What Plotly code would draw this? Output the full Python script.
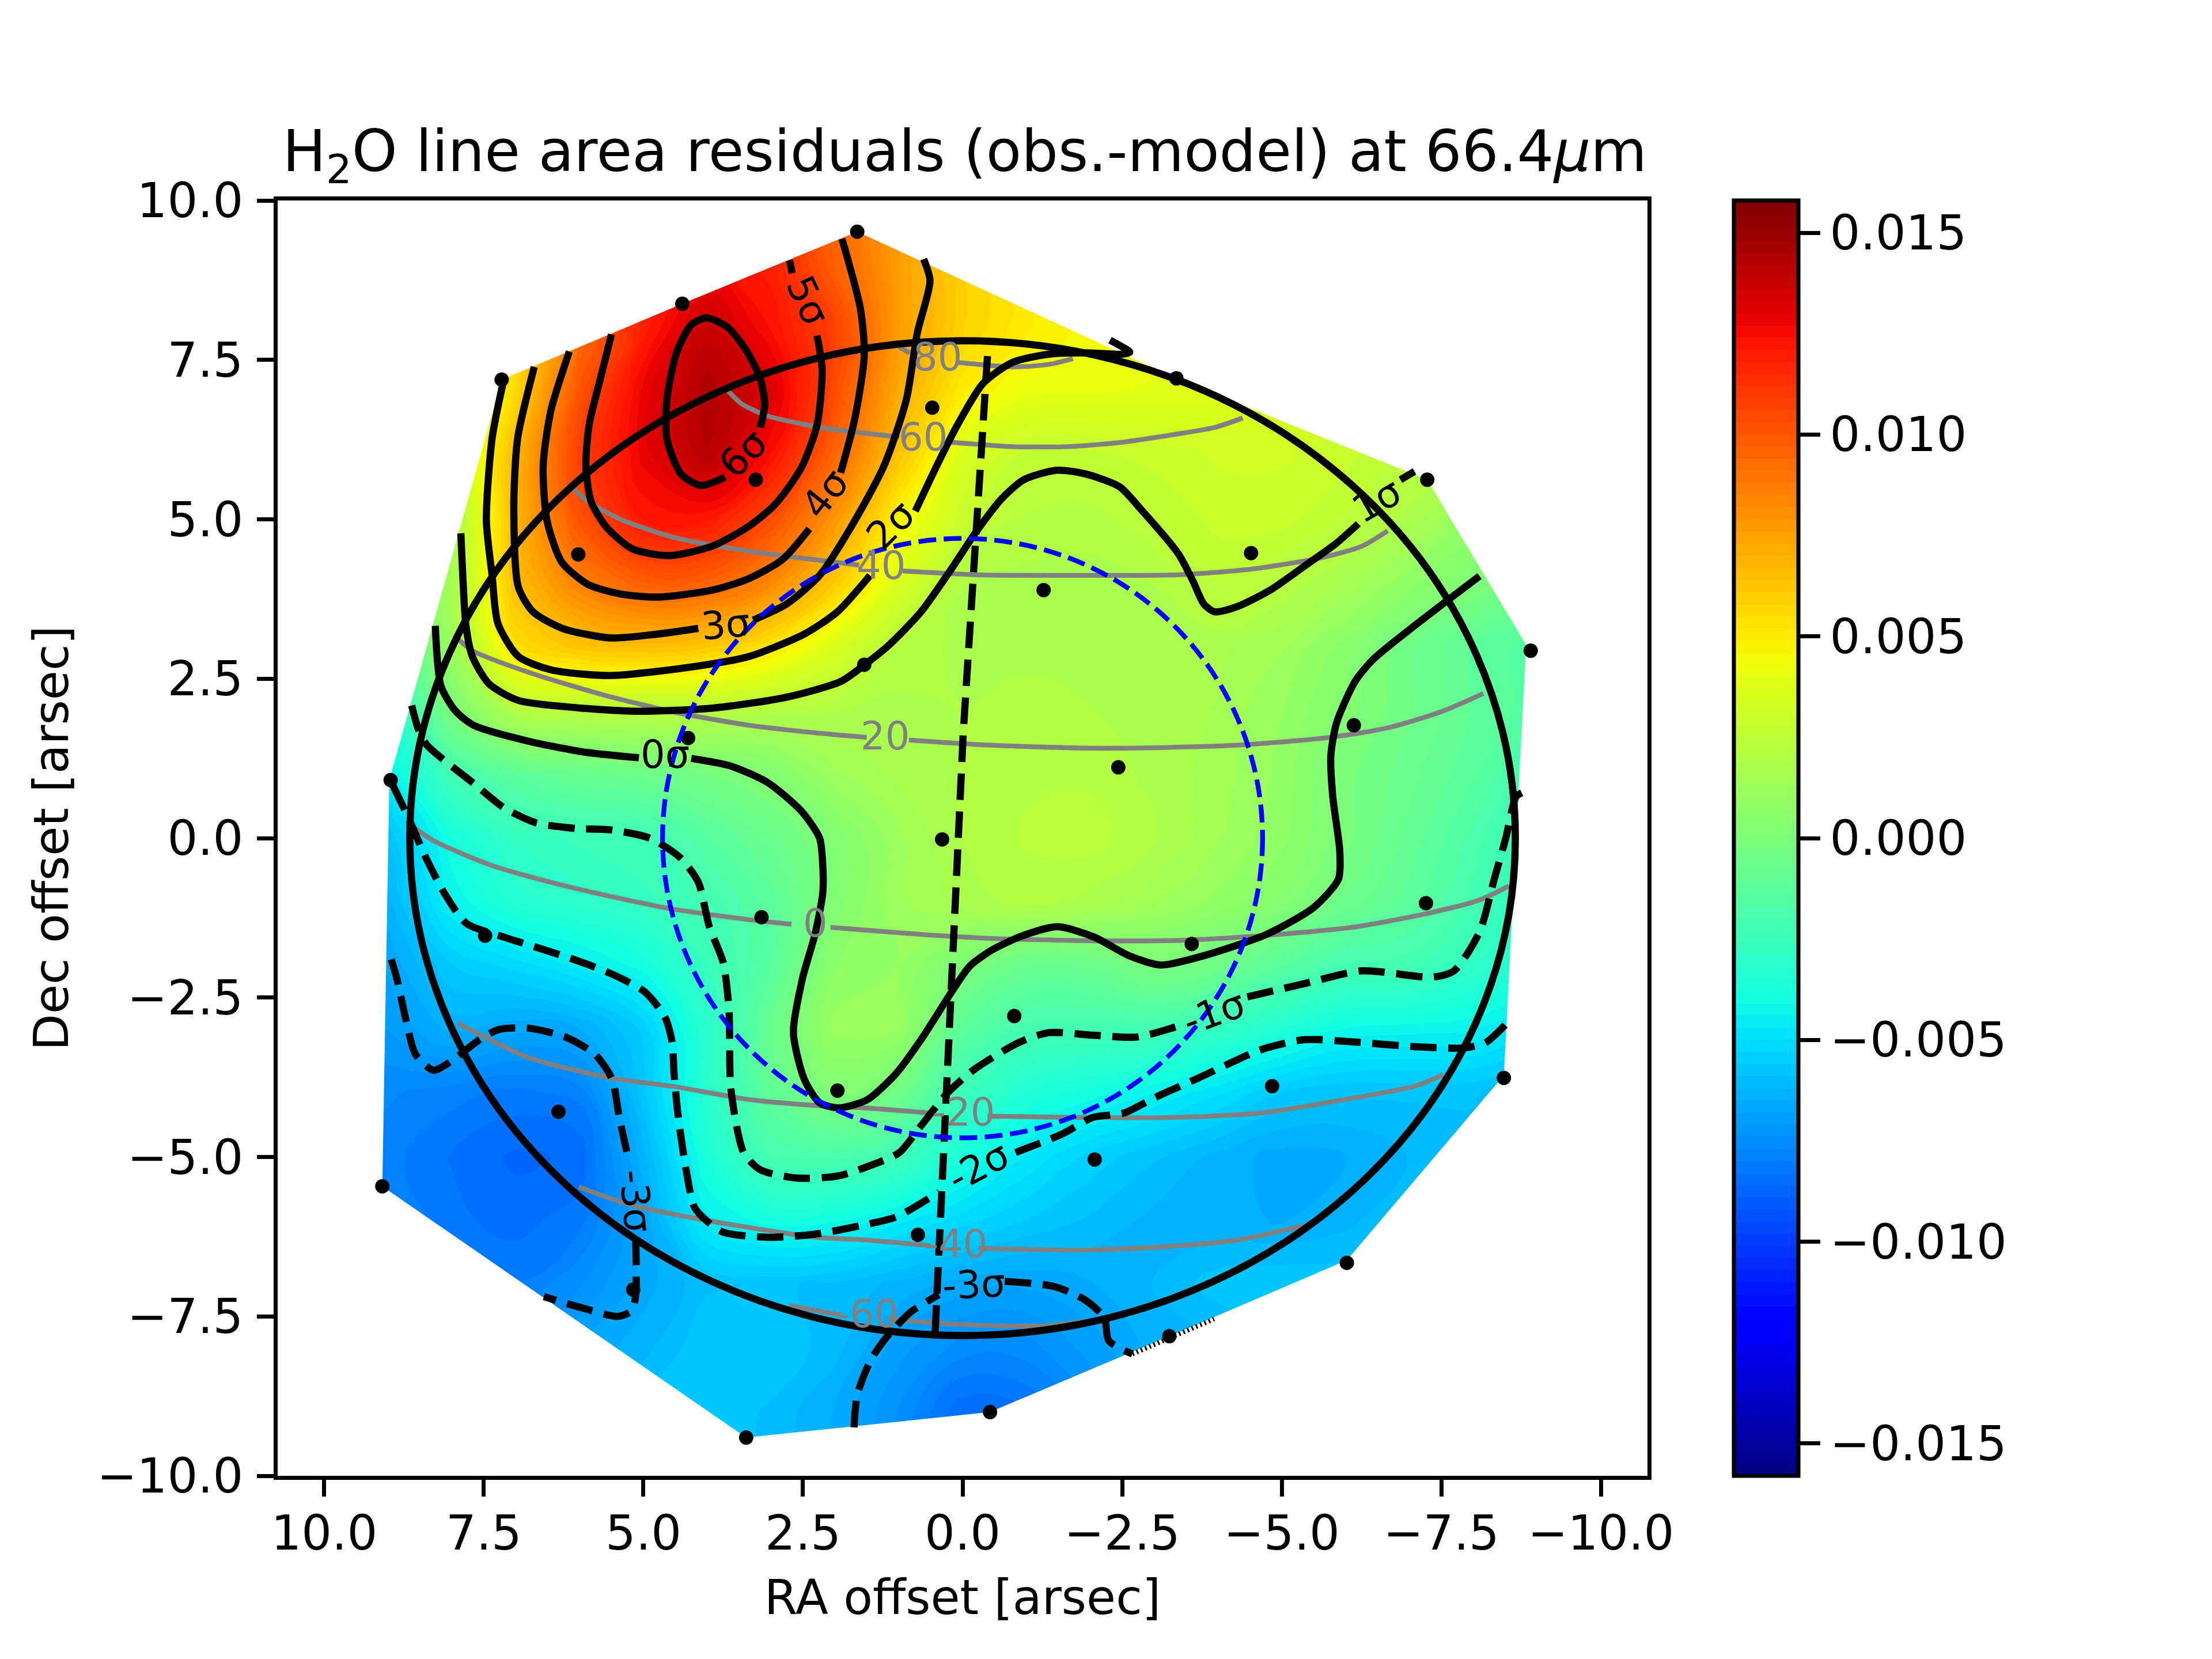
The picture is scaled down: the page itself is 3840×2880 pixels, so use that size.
import plotly.graph_objects as go

SIGMA = 0.00225
CMAX = 0.0158

# residual map, in units of sigma (rows = Dec, columns = RA)
ra_grid = [10, 9, 8, 7, 6, 5, 4, 3, 2, 1, 0, -1, -2, -3, -4, -5, -6, -7, -8, -9, -10]
dec_grid = [10, 9, 8, 7, 6, 5, 4, 3, 2, 1, 0, -1, -2, -3, -4, -5, -6, -7, -8, -9, -10]
residual_sigma = [
    [3.0, 3.5, 4.0, 4.5, 5.0, 5.3, 5.5, 5.1, 4.2, 3.4, 2.6, 2.2, 2.0, 1.9, 1.8, 1.7, 1.6, 1.5, 1.4, 1.3, 1.2],
    [3.0, 3.5, 4.0, 4.5, 5.0, 5.3, 5.6, 5.3, 4.3, 3.4, 2.6, 2.2, 2.0, 1.9, 1.8, 1.7, 1.6, 1.5, 1.4, 1.3, 1.2],
    [1.0, 1.2, 1.6, 2.5, 4.1, 5.3, 6.1, 5.5, 4.75, 3.4, 2.6, 2.2, 2.0, 1.9, 1.8, 1.7, 1.6, 1.5, 1.4, 1.3, 1.2],
    [0.5, 0.8, 1.2, 2.5, 4.5, 5.7, 6.4, 5.9, 4.6, 3.2, 2.2, 1.85, 1.8, 1.75, 1.7, 1.6, 1.5, 1.4, 1.3, 1.2, 1.1],
    [0.2, 0.4, 1.0, 3.0, 4.8, 5.7, 6.3, 5.5, 4.2, 2.8, 1.6, 1.2, 1.2, 1.3, 1.4, 1.4, 1.3, 1.05, 0.9, 0.8, 0.7],
    [-0.2, 0.0, 0.7, 3.0, 4.5, 5.4, 5.4, 4.6, 3.5, 2.1, 1.3, 0.95, 0.9, 1.1, 1.3, 1.3, 1.1, 0.8, 0.4, 0.2, 0.1],
    [-0.5, -0.3, 0.7, 2.9, 3.8, 4.3, 4.25, 3.7, 2.7, 1.6, 0.85, 0.8, 0.8, 0.85, 1.1, 0.95, 0.7, 0.35, 0.05, -0.2, -0.4],
    [-1.5, -0.8, 0.5, 2.4, 2.8, 2.9, 2.75, 2.3, 1.6, 0.95, 0.8, 0.8, 0.75, 0.75, 0.75, 0.6, 0.25, -0.2, -0.5, -0.7, -0.9],
    [-2.2, -1.5, 0.0, 0.9, 1.0, 1.0, 1.0, 0.9, 0.85, 0.8, 0.85, 0.9, 0.85, 0.8, 0.7, 0.45, 0.1, -0.2, -0.5, -0.7, -1.0],
    [-2.6, -2.0, -1.0, -0.55, -0.35, -0.25, -0.1, 0.1, 0.55, 0.75, 0.85, 0.95, 0.95, 0.8, 0.65, 0.4, -0.05, -0.3, -0.6, -1.0, -1.3],
    [-3.0, -2.6, -1.7, -1.25, -1.12, -1.05, -0.65, -0.3, 0.1, 0.55, 0.85, 1.0, 1.05, 0.85, 0.6, 0.35, -0.05, -0.4, -0.8, -1.3, -1.6],
    [-3.2, -2.8, -1.95, -1.5, -1.35, -1.2, -0.98, -0.55, 0.1, 0.55, 0.75, 0.9, 0.8, 0.6, 0.4, 0.15, -0.25, -0.55, -0.95, -1.4, -1.7],
    [-3.2, -3.0, -2.5, -2.3, -2.05, -1.75, -1.15, -0.6, 0.3, 0.45, 0.03, -0.33, -0.3, -0.02, -0.2, -0.6, -0.92, -0.97, -1.3, -1.6, -1.8],
    [-3.3, -3.15, -2.85, -2.98, -2.9, -2.45, -1.4, -0.35, 0.5, 0.45, -0.55, -0.95, -0.98, -1.0, -1.25, -1.55, -1.85, -1.9, -1.95, -2.2, -2.4],
    [-3.4, -3.4, -3.5, -3.6, -3.5, -2.55, -1.45, -0.5, 0.05, -0.2, -1.1, -1.55, -1.75, -1.95, -2.2, -2.5, -2.6, -2.6, -2.6, -2.8, -2.9],
    [-3.4, -3.5, -3.7, -3.85, -3.8, -2.8, -1.65, -0.9, -0.85, -1.05, -1.65, -2.1, -2.4, -2.6, -2.8, -2.95, -2.9, -2.75, -2.7, -2.8, -2.8],
    [-3.4, -3.4, -3.65, -3.75, -3.6, -3.0, -2.0, -1.75, -1.8, -2.05, -2.3, -2.5, -2.65, -2.8, -2.85, -2.9, -2.8, -2.6, -2.6, -2.7, -2.7],
    [-3.4, -3.4, -3.5, -3.55, -3.3, -2.95, -2.65, -2.6, -2.65, -2.8, -2.95, -3.0, -2.9, -2.75, -2.55, -2.5, -2.5, -2.4, -2.4, -2.4, -2.4],
    [-3.3, -3.3, -3.3, -3.3, -3.0, -2.8, -2.5, -2.5, -2.7, -3.1, -3.35, -3.35, -3.1, -2.85, -2.8, -2.7, -2.6, -2.6, -2.6, -2.6, -2.6],
    [-3.0, -3.0, -3.0, -3.0, -2.8, -2.6, -2.5, -2.65, -2.9, -3.3, -3.8, -3.7, -3.3, -3.0, -2.9, -2.8, -2.7, -2.7, -2.7, -2.7, -2.7],
    [-3.0, -3.0, -3.0, -3.0, -2.8, -2.6, -2.5, -2.65, -2.9, -3.3, -3.8, -3.7, -3.3, -3.0, -2.9, -2.8, -2.7, -2.7, -2.7, -2.7, -2.7],
]

# footprint of the map (opposite winding to the outer frame of the mask)
hull = [(1.65, 9.51), (4.39, 8.38), (7.22, 7.19), (8.98, 0.91), (9.09, -5.46), (3.39, -9.4), (-0.43, -9.0), (-3.24, -7.81),
        (-6.02, -6.62), (-8.48, -3.72), (-8.83, 3.03), (-7.28, 5.62), (-3.35, 7.21), (1.65, 9.51)]

# spaxel positions
spaxels_ra = [1.65, 4.39, 7.22, 0.475, 3.24, 6.02, -3.35, -7.28, -4.52, -1.27, -8.9, 1.54, 4.3, -6.13, -2.44, 8.96, 0.32,
              3.15, -7.26, -3.59, 7.48, -0.81, 1.96, 6.33, -8.48, -4.85, -2.07, 9.09, 0.7, 5.16, -6.02, -3.24, 3.39, -0.43]
spaxels_dec = [9.51, 8.38, 7.19, 6.75, 5.62, 4.45, 7.21, 5.62, 4.47, 3.89, 2.94, 2.72, 1.57, 1.77, 1.11, 0.91, -0.02,
               -1.24, -1.02, -1.66, -1.53, -2.79, -3.96, -4.29, -3.76, -3.89, -5.04, -5.46, -6.22, -7.08, -6.66, -7.81, -9.4, -9.0]

# positive residual contours
sig6 = [(3.72, 5.66), (4.10, 5.53), (4.41, 5.71), (4.63, 6.26), (4.63, 6.88), (4.48, 7.61), (4.25, 8.05), (4.01, 8.16),
        (3.68, 8.01), (3.39, 7.65), (3.17, 7.21), (3.10, 6.79), (3.17, 6.44)]
sig5a = [(2.71, 9.06), (2.67, 8.86)]
sig5b = [(2.28, 7.88), (2.20, 7.35), (2.28, 6.48), (2.53, 5.80), (2.94, 5.23), (3.35, 4.89), (3.92, 4.58), (4.61, 4.43),
         (5.18, 4.54), (5.59, 4.89), (5.82, 5.28), (5.90, 5.84), (5.85, 6.48), (5.67, 7.22), (5.50, 7.90)]
sig4a = [(6.16, 7.63), (6.45, 6.70), (6.57, 5.84), (6.51, 4.98), (6.28, 4.33), (5.87, 3.98), (5.36, 3.83), (4.78, 3.78),
         (3.92, 3.89), (3.35, 4.07), (2.82, 4.37), (2.40, 4.85)]
sig4b = [(1.91, 5.73), (1.69, 6.57), (1.54, 7.57), (1.60, 8.30), (1.89, 9.40)]
sig3a = [(6.71, 7.39), (6.97, 6.27), (7.03, 5.20), (6.96, 3.94), (6.73, 3.55), (6.27, 3.29), (5.52, 3.14), (4.78, 3.20),
         (4.14, 3.29)]
sig3b = [(3.28, 3.42), (2.76, 3.67), (2.24, 4.12), (1.74, 4.89), (1.23, 5.84), (0.88, 6.88), (0.71, 7.92), (0.51, 8.74),
         (0.61, 9.08)]
sig2a = [(7.20, 7.13), (7.37, 6.27), (7.46, 4.98), (7.37, 4.12), (7.28, 3.37), (6.96, 2.85), (6.45, 2.64), (5.52, 2.55),
         (4.14, 2.70), (3.34, 2.85), (2.48, 3.20), (1.96, 3.55), (1.45, 4.12)]
sig2b = [(0.74, 5.13), (0.36, 5.93), (0.08, 6.48), (-0.32, 7.13), (-0.78, 7.46), (-1.36, 7.59), (-1.93, 7.61),
         (-2.50, 7.59), (-2.62, 7.62), (-2.31, 7.81)]
sig1a = [(7.86, 4.78), (7.83, 4.12), (7.78, 3.33), (7.68, 2.85), (7.42, 2.42), (6.96, 2.16), (5.98, 2.04), (5.07, 1.99),
         (3.91, 2.04), (2.76, 2.21), (1.90, 2.46), (1.52, 2.73), (1.15, 3.03), (0.65, 3.55), (0.19, 4.20), (-0.21, 4.80),
         (-0.61, 5.32), (-0.96, 5.62), (-1.48, 5.77), (-1.93, 5.71), (-2.46, 5.51), (-2.80, 5.15), (-3.38, 4.46),
         (-3.61, 4.03), (-3.78, 3.67), (-3.95, 3.55), (-4.30, 3.63), (-4.82, 3.89), (-5.39, 4.29), (-5.85, 4.62), (-6.20, 4.93)]
sig1b = [(-6.86, 5.62), (-7.08, 5.75)]
sig0a = [(8.26, 3.33), (8.17, 2.38), (7.94, 1.99), (7.66, 1.77), (6.80, 1.52), (5.93, 1.35), (5.07, 1.26)]
sig0b = [(4.25, 1.25), (3.63, 1.13), (3.05, 0.87), (2.53, 0.43), (2.24, 0.0), (2.19, -0.43), (2.19, -0.86), (2.31, -1.50),
         (2.51, -2.21), (2.65, -3.05), (2.48, -3.78), (2.24, -4.15), (1.93, -4.23), (1.49, -4.10), (1.04, -3.69), (0.65, -3.16),
         (0.17, -2.41), (-0.11, -2.01), (-0.45, -1.76), (-0.94, -1.53), (-1.49, -1.39), (-2.06, -1.55), (-2.60, -1.84),
         (-3.10, -1.99), (-3.72, -1.86), (-4.76, -1.51), (-5.51, -1.08), (-5.89, -0.64), (-5.91, -0.21), (-5.80, 0.65),
         (-5.77, 1.30), (-5.86, 1.81), (-6.15, 2.46), (-6.44, 2.81), (-7.13, 3.37), (-7.52, 3.67), (-8.10, 4.11)]

# negative residual contours
neg1a = [(8.63, 2.08), (8.52, 1.69), (8.40, 1.47), (8.17, 1.26), (7.66, 0.86), (7.19, 0.48), (6.68, 0.24), (6.04, 0.15),
         (5.52, 0.13), (4.90, 0.0), (4.43, -0.30), (4.14, -0.69), (3.97, -1.38), (3.75, -1.95), (3.66, -2.67), (3.65, -3.05),
         (3.63, -3.93), (3.43, -4.93), (3.17, -5.20), (2.60, -5.33), (1.96, -5.30), (1.38, -5.11), (0.99, -4.93), (0.65, -4.51),
         (0.23, -3.99), (-0.18, -3.63), (-0.87, -3.21), (-1.35, -3.05), (-2.04, -3.09), (-2.73, -3.12), (-3.43, -2.93)]
neg1b = [(-4.46, -2.49), (-5.36, -2.28), (-6.26, -2.08), (-7.36, -2.18), (-7.70, -2.08), (-8.10, -1.47), (-8.33, -0.64),
         (-8.51, 0.0), (-8.67, 0.65), (-8.76, 0.71)]
neg2a = [(8.92, 0.82), (8.66, 0.27), (8.43, -0.26), (8.12, -0.86), (7.77, -1.34), (7.19, -1.55), (6.62, -1.73), (6.04, -1.92),
         (5.52, -2.12), (4.98, -2.41), (4.66, -2.81), (4.55, -3.20), (4.52, -3.69), (4.46, -4.32), (4.34, -5.15), (4.20, -5.79),
         (4.00, -6.01), (3.75, -6.18), (3.05, -6.26), (2.31, -6.21), (1.61, -6.08), (1.04, -5.94), (0.37, -5.55)]
neg2b = [(-0.83, -4.93), (-1.56, -4.64), (-2.04, -4.38), (-2.53, -4.31), (-3.01, -4.07), (-3.70, -3.76), (-4.67, -3.32),
         (-5.36, -3.16), (-6.04, -3.19), (-7.08, -3.27), (-7.85, -3.29), (-8.19, -3.21), (-8.50, -2.93)]
neg3a = [(8.95, -1.90), (8.86, -2.21), (8.72, -2.85), (8.57, -3.39), (8.29, -3.64), (8.00, -3.49), (7.54, -3.14), (7.26, -3.00),
         (6.80, -2.98), (6.22, -3.12), (5.76, -3.39), (5.49, -3.78), (5.38, -4.37), (5.24, -5.01)]
neg3b = [(5.12, -6.28), (5.12, -7.16), (5.18, -7.41), (5.41, -7.50), (5.98, -7.36), (6.56, -7.19)]
neg3c = [(1.70, -9.24), (1.65, -8.73), (1.44, -8.19), (1.21, -7.85), (0.81, -7.43), (0.37, -7.16)]
neg3d = [(-0.66, -6.95), (-1.43, -7.03), (-1.90, -7.23), (-2.22, -7.52), (-2.29, -7.88), (-2.66, -8.09)]
neg3_edge = [(-2.66, -8.09), (-3.94, -7.54)]

# planetocentric grid: parallels and central meridian
lat80 = [(0.99, 7.70), (0.83, 7.61)]
lat80b = [(0.08, 7.46), (-0.78, 7.39), (-1.36, 7.43), (-1.73, 7.52)]
lat60 = [(3.69, 7.03), (3.46, 6.81), (3.05, 6.62), (2.49, 6.49), (2.09, 6.42), (0.99, 6.29)]
lat60b = [(0.19, 6.21), (-0.78, 6.14), (-1.65, 6.14), (-2.51, 6.21), (-3.38, 6.34), (-3.95, 6.44), (-4.39, 6.59)]
lat40 = [(6.11, 5.49), (5.87, 5.28), (5.36, 5.00), (4.50, 4.71), (3.35, 4.50), (2.09, 4.34), (1.62, 4.28)]
lat40b = [(0.94, 4.19), (-0.21, 4.13), (-1.93, 4.12), (-3.38, 4.13), (-4.53, 4.22), (-5.68, 4.41), (-6.26, 4.58), (-6.66, 4.82)]
lat20 = [(7.91, 3.13), (7.68, 2.94), (6.80, 2.60), (5.64, 2.25), (4.49, 1.97), (3.34, 1.77), (2.19, 1.64), (1.50, 1.58)]
lat20b = [(0.84, 1.54), (-0.39, 1.46), (-2.06, 1.41), (-3.50, 1.43), (-4.48, 1.47), (-5.75, 1.58), (-6.66, 1.73), (-7.52, 1.99), (-8.16, 2.27)]
lat0 = [(8.57, 0.15), (8.29, -0.04), (7.37, -0.43), (6.22, -0.75), (4.61, -1.10), (3.17, -1.30), (2.68, -1.35)]
lat0b = [(2.07, -1.40), (0.65, -1.51), (-0.39, -1.57), (-2.06, -1.61), (-3.50, -1.60), (-4.94, -1.51), (-6.09, -1.40), (-7.24, -1.19), (-8.10, -0.97), (-8.56, -0.75)]
latm20 = [(7.91, -2.90), (6.80, -3.44), (5.52, -3.76), (4.49, -3.90), (3.34, -4.10), (2.19, -4.20), (1.55, -4.23), (0.51, -4.31)]
latm20b = [(-0.39, -4.36), (-1.90, -4.38), (-3.28, -4.38), (-4.67, -4.31), (-6.04, -4.09), (-7.08, -3.89), (-7.53, -3.71)]
latm40 = [(6.01, -5.47), (5.24, -5.74), (4.03, -5.99), (2.31, -6.26), (1.55, -6.30), (0.51, -6.39)]
latm40b = [(-0.25, -6.43), (-1.90, -6.46), (-3.28, -6.40), (-4.32, -6.30), (-5.36, -6.07)]
latm60 = [(2.71, -7.33), (1.90, -7.48)]
latm60b = [(1.17, -7.54), (0.17, -7.62), (-1.22, -7.65), (-1.98, -7.57)]
meridian = [(-0.39, 7.56), (-0.01, 1.64), (0.43, -7.77)]

# contour labels: text, RA, Dec, rotation
sigma_labels = [("6σ", 3.43, 6.03, -45), ("5σ", 2.42, 8.43, 65), ("4σ", 2.15, 5.40, -52), ("3σ", 3.71, 3.35, -5),
                ("2σ", 1.12, 4.91, -45), ("1σ", -6.49, 5.29, -30), ("0σ", 4.66, 1.31, 0), ("-1σ", -3.94, -2.74, -20),
                ("-2σ", -0.25, -5.15, -28), ("-3σ", 5.12, -5.69, 85), ("-3σ", -0.18, -7.00, -3)]
lat_labels = [("80", 0.39, 7.54), ("60", 0.62, 6.29), ("40", 1.28, 4.27), ("20", 1.21, 1.60), ("0", 2.31, -1.34),
              ("-20", -0.01, -4.30), ("-40", 0.10, -6.37), ("-60", 1.49, -7.46)]

# matplotlib jet
jet = [[0, "rgb(0,0,127)"], [0.11, "rgb(0,0,255)"], [0.125, "rgb(0,0,255)"], [0.34, "rgb(0,219,255)"],
       [0.35, "rgb(0,229,247)"], [0.375, "rgb(20,255,226)"], [0.64, "rgb(238,255,8)"], [0.65, "rgb(247,245,0)"],
       [0.66, "rgb(255,236,0)"], [0.89, "rgb(255,19,0)"], [0.91, "rgb(232,0,0)"], [1, "rgb(127,0,0)"]]

FONT = "DejaVu Sans"
DASH = "46px,20px"


def add_curve(fig, pts, color="black", width=12.5, dash=None, shape="spline"):
    fig.add_trace(go.Scatter(
        x=[p[0] for p in pts], y=[p[1] for p in pts], mode="lines",
        line=dict(color=color, width=width, dash=dash, shape=shape, smoothing=0.7),
        showlegend=False, hoverinfo="skip"))


fig = go.Figure()

fig.add_trace(go.Contour(
    x=ra_grid, y=dec_grid,
    z=[[v * SIGMA for v in row] for row in residual_sigma],
    zmin=-CMAX, zmax=CMAX, colorscale=jet,
    autocontour=False,
    contours=dict(start=-CMAX, end=CMAX, size=0.0003, coloring="fill", showlines=False),
    line=dict(width=0, smoothing=1.3),
    colorbar=dict(
        thickness=112, thicknessmode="pixels", len=1, lenmode="fraction",
        x=(3010 - 482) / 2378, xanchor="left", y=0.5, yanchor="middle", xpad=0, ypad=0,
        outlinewidth=7, outlinecolor="black",
        tickmode="array", tickvals=[-0.015, -0.01, -0.005, 0, 0.005, 0.01, 0.015], tickformat=".3f",
        ticks="outside", ticklen=35, tickwidth=7, tickcolor="black",
        tickfont=dict(family=FONT, size=83, color="black")),
    hoverinfo="skip"))

# white out everything outside the footprint
outer = [(12, 12), (-12, 12), (-12, -12), (12, -12), (12, 12)]
mask = outer + hull + [(12, 12)]
fig.add_trace(go.Scatter(x=[p[0] for p in mask], y=[p[1] for p in mask], mode="lines", fill="toself",
                         fillcolor="white", line=dict(width=0, color="white"), showlegend=False, hoverinfo="skip"))

for seg in [lat80, lat80b, lat60, lat60b, lat40, lat40b, lat20, lat20b, lat0, lat0b, latm20, latm20b, latm40, latm40b, latm60, latm60b]:
    add_curve(fig, seg, color="#808080", width=8.3)

for seg in [sig6, sig5a, sig5b, sig4a, sig4b, sig3a, sig3b, sig2a, sig2b, sig1a, sig1b, sig0a, sig0b]:
    add_curve(fig, seg)
for seg in [neg1a, neg1b, neg2a, neg2b, neg3a, neg3b, neg3c, neg3d]:
    add_curve(fig, seg, dash=DASH)
add_curve(fig, neg3_edge, width=8, dash="3px,5px", shape="linear")
add_curve(fig, meridian, dash=DASH, shape="linear")

fig.add_trace(go.Scatter(x=spaxels_ra, y=spaxels_dec, mode="markers",
                         marker=dict(color="black", size=25), showlegend=False, hoverinfo="skip"))

# planet limb and beam
fig.add_shape(type="circle", xref="x", yref="y", x0=8.66, x1=-8.66, y0=-7.8, y1=7.8, layer="above",
              line=dict(color="black", width=12.5))
fig.add_shape(type="circle", xref="x", yref="y", x0=4.7, x1=-4.7, y0=-4.7, y1=4.7, layer="above",
              line=dict(color="#0000ff", width=8.3, dash="31px,13px"))

for text, x, y, angle in sigma_labels:
    fig.add_annotation(x=x, y=y, text=text, textangle=angle, showarrow=False, xanchor="center", yanchor="middle",
                       font=dict(family=FONT, size=67, color="black"))
for text, x, y in lat_labels:
    fig.add_annotation(x=x, y=y, text=text, showarrow=False, xanchor="center", yanchor="middle",
                       font=dict(family=FONT, size=67, color="#808080"))

axis_style = dict(showgrid=False, zeroline=False, showline=True, mirror=True, linecolor="black", linewidth=7,
                  ticks="outside", ticklen=29, tickwidth=7, tickcolor="black", dtick=2.5, tickformat=".1f",
                  tickfont=dict(family=FONT, size=83, color="black"))

fig.update_layout(
    width=3840, height=2880,
    margin=dict(l=474, r=988, t=340, b=326, autoexpand=False),
    paper_bgcolor="white", plot_bgcolor="white",
    title=dict(text="H<sub>2</sub>O line area residuals (obs.-model) at 66.4<i>μ</i>m",
               font=dict(family=FONT, size=100.4, color="black"),
               x=(474 + 2852) / 2 / 3840 + 0.001, xanchor="center", y=1 - 254 / 2880, yanchor="middle"),
    xaxis=dict(range=[10.73, -10.73], ticklabelstandoff=-8,
               title=dict(text="RA offset [arsec]", standoff=38, font=dict(family=FONT, size=83, color="black")),
               tick0=0, **axis_style),
    yaxis=dict(range=[-10, 10], ticklabelstandoff=7,
               title=dict(text="Dec offset [arsec]", standoff=24, font=dict(family=FONT, size=83, color="black")),
               tick0=0, **axis_style),
)

fig.write_html("out.html")
